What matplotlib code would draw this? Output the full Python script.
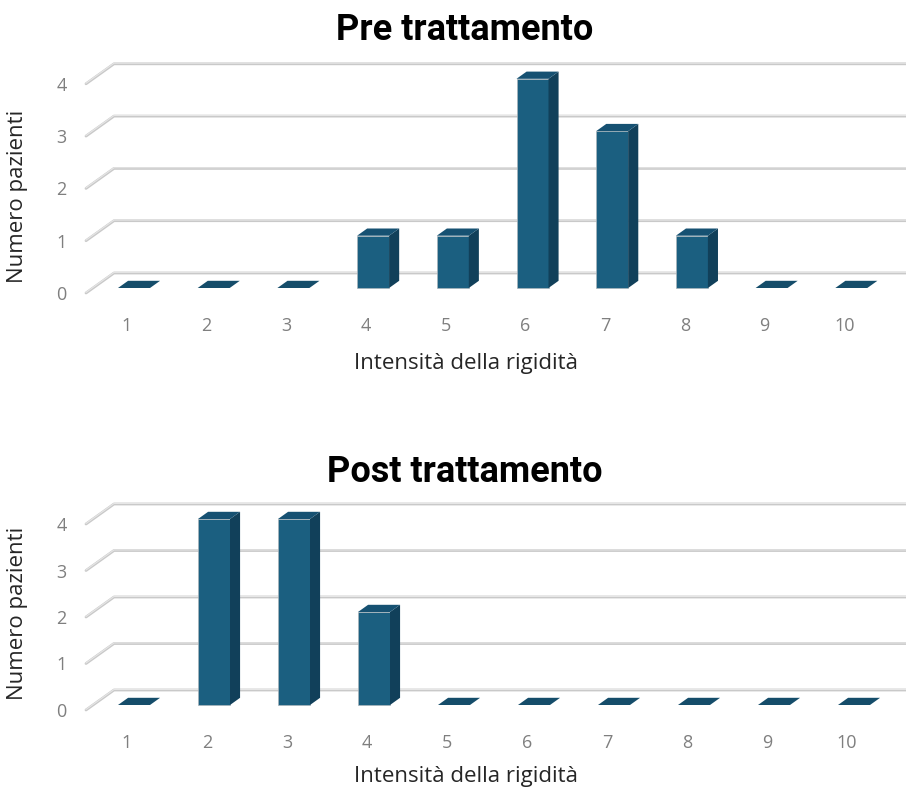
import matplotlib.pyplot as plt
from matplotlib.patches import Polygon

plt.rcParams['font.family'] = ['Open Sans', 'DejaVu Sans']

categories = [1, 2, 3, 4, 5, 6, 7, 8, 9, 10]
pre_values = [0, 0, 0, 1, 1, 4, 3, 1, 0, 0]
post_values = [0, 4, 4, 2, 0, 0, 0, 0, 0, 0]
y_ticks = [0, 1, 2, 3, 4]

W, H = 906, 791
fig = plt.figure(figsize=(W / 100, H / 100), dpi=100)

FRONT = '#1b5f80'
SIDE = '#11405a'
TOP = '#165172'
GRID = '#c9c9c9'


def chart(values, title, floor_px, unit_px, cat_px, title_base, ylab_y, xlab_top):
    left_px, right_px = 86, 906
    top_px = floor_px - 4 * unit_px - 22
    h_px = floor_px - top_px
    ax = fig.add_axes([left_px / W, 1 - floor_px / H,
                       (right_px - left_px) / W, h_px / H])
    x0 = 1 - (127 - left_px) / cat_px
    x1 = x0 + (right_px - left_px) / cat_px
    ax.set_xlim(x0, x1)
    ax.set_ylim(0, h_px / unit_px)
    # depth of the 3d box in data units
    dx = 28 / cat_px
    dy = 20 / unit_px

    for v in y_ticks:
        ax.plot([x0, x0 + dx, x1 + dx], [v, v + dy, v + dy], color=GRID,
                lw=2.0, solid_capstyle='round', clip_on=False, zorder=1)
        ax.plot([x0, x0 + dx, x1 + dx], [v + 0.012, v + dy + 0.012, v + dy + 0.012],
                color='#e6e6e6', lw=0.8, clip_on=False, zorder=1)

    w = 16 / cat_px
    d0, d1 = 0.25, 0.61
    for c, v in zip(categories, values):
        xa = c - w + d0 * dx
        xb = c + w + d0 * dx
        ya = d0 * dy
        ox = (d1 - d0) * dx
        oy = (d1 - d0) * dy
        if v > 0:
            ax.add_patch(Polygon([(xa, ya), (xb, ya), (xb, ya + v), (xa, ya + v)],
                                 closed=True, fc=FRONT, ec='#a9b4ba', lw=0.5, zorder=3))
            ax.add_patch(Polygon([(xb, ya), (xb + ox, ya + oy), (xb + ox, ya + v + oy),
                                  (xb, ya + v)], closed=True, fc=SIDE, ec='none', zorder=3))
        ax.add_patch(Polygon([(xa, ya + v), (xb, ya + v), (xb + ox, ya + v + oy),
                              (xa + ox, ya + v + oy)], closed=True, fc=TOP if v > 0 else '#154d6a',
                             ec='none', zorder=4))

    ax.set_xticks(categories)
    ax.set_yticks(y_ticks)
    ax.tick_params(length=0, labelsize=13, labelcolor='#7f7f7f')
    ax.tick_params(axis='x', pad=17)
    ax.tick_params(axis='y', pad=14)
    for s in ax.spines.values():
        s.set_visible(False)
    ax.set_ylabel('Numero pazienti', fontsize=16, color='#262626')
    ax.yaxis.set_label_coords(-0.071, ylab_y)
    ax.set_xlabel('Intensità della rigidità', fontsize=16, color='#262626')
    ax.xaxis.set_label_coords(0.463, (floor_px - xlab_top) / h_px)
    fig.text(465 / W, 1 - title_base / H, title, ha='center', va='baseline',
             fontsize=26, fontweight='bold', color='black', family='Roboto')
    return ax


chart(pre_values, 'Pre trattamento', 293, 52.3, 79.7, 40, 0.42, 353)
chart(post_values, 'Post trattamento', 710, 46.5, 80.0, 482, 0.466, 766)

fig.savefig('out.png', dpi=100, facecolor='white')
